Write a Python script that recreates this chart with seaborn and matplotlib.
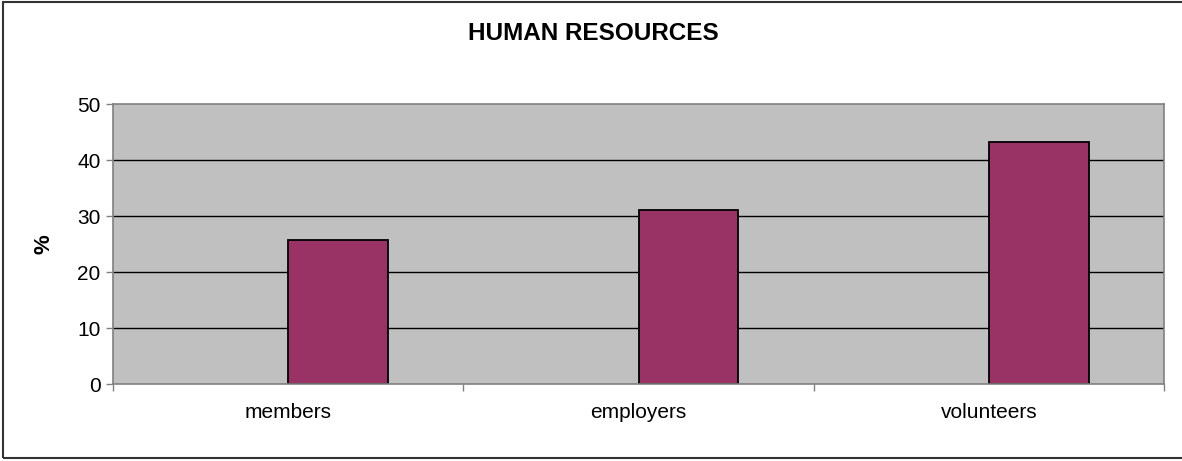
import matplotlib
matplotlib.use("Agg")
import matplotlib.pyplot as plt
import seaborn as sns
import pandas as pd
import numpy as np
from matplotlib.patches import Rectangle

categories = ["members", "employers", "volunteers"]
values = [25.7, 31.0, 43.2]
series_names = ["blank", "share"]
title = "HUMAN RESOURCES"
ylabel = "%"
yticks = [0, 10, 20, 30, 40, 50]

sns.set_theme(style="white")
plt.rcParams["font.family"] = ["Liberation Sans", "DejaVu Sans"]
plt.rcParams["text.color"] = "black"
plt.rcParams["xtick.color"] = "black"
plt.rcParams["ytick.color"] = "black"
plt.rcParams["axes.labelcolor"] = "black"

df = pd.DataFrame({
    "category": categories * 2,
    "series": [series_names[0]] * 3 + [series_names[1]] * 3,
    "value": [np.nan] * 3 + values,
})

fig = plt.figure(figsize=(11.82, 4.61), dpi=100)
ax = fig.add_axes([113/1182, 77/461, (1164-113)/1182, 280/461])

sns.barplot(data=df, x="category", y="value", hue="series", order=categories,
            hue_order=series_names, palette=["#993366", "#993366"], width=0.57,
            edgecolor="black", linewidth=1.3, saturation=1, ax=ax, legend=False)

ax.set_facecolor("#C0C0C0")
ax.set_xlim(-0.5, 2.5)
ax.set_ylim(0, 50)
ax.set_yticks(yticks)
ax.set_yticklabels([str(t) for t in yticks], fontsize=15)
for t in yticks[1:-1]:
    ax.axhline(t, color="black", lw=1, zorder=0.5)
ax.set_axisbelow(True)

ax.set_xticks([0, 1, 2])
ax.set_xticklabels(categories, fontsize=15)
ax.set_xticks([-0.5, 0.5, 1.5, 2.5], minor=True)
ax.tick_params(axis="x", which="major", length=0, pad=14)
ax.tick_params(axis="x", which="minor", length=5, width=1, color="#808080", direction="out", bottom=True)
ax.tick_params(axis="y", length=5, width=1, color="#808080", direction="out", left=True, pad=4)
ax.set_xlabel("")
ax.set_ylabel(ylabel, fontsize=16, fontweight="bold", labelpad=16)

for side in ["top", "right", "left", "bottom"]:
    ax.spines[side].set_visible(True)
    ax.spines[side].set_color("#808080")
    ax.spines[side].set_linewidth(1.2)

fig.text(593/1182, 1 - 34/461, title, ha="center", va="center",
         fontsize=17.5, fontweight="bold")

fig.patches.append(Rectangle((3/1182, 3/461), 1190/1182, 456/461, transform=fig.transFigure,
                             fill=False, edgecolor="#333333", linewidth=1.5))

fig.savefig("out.png", dpi=100)
